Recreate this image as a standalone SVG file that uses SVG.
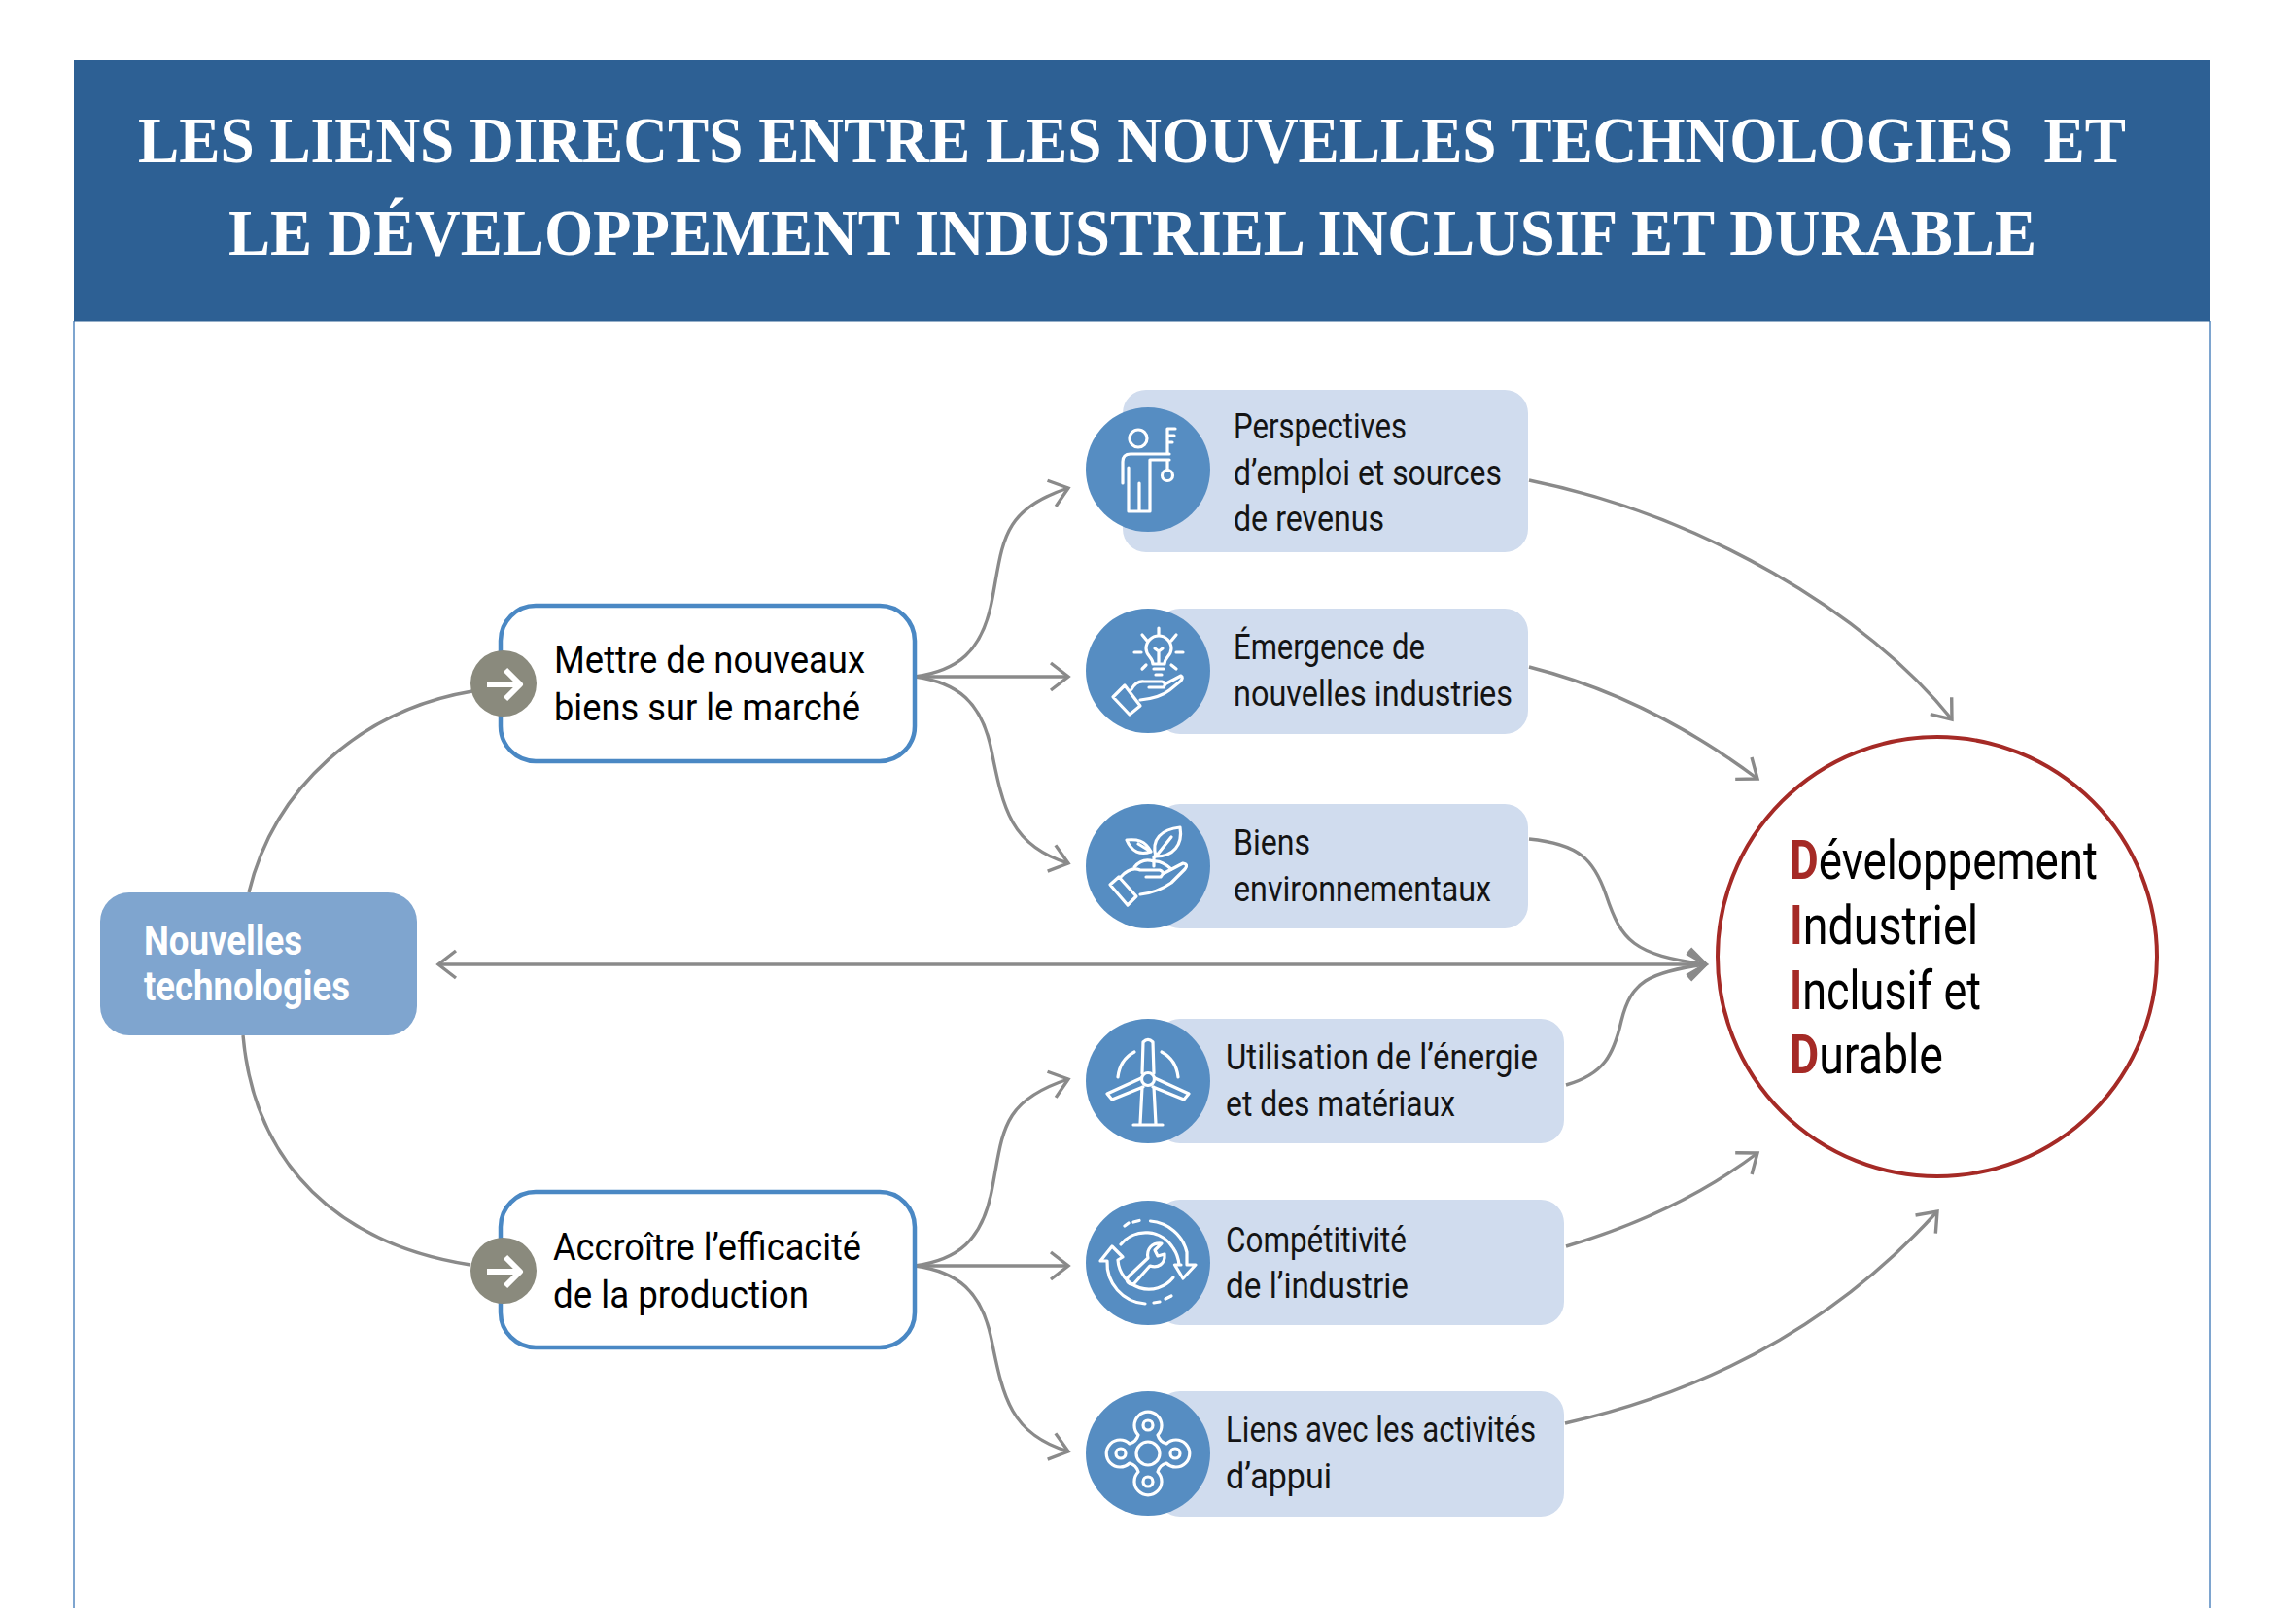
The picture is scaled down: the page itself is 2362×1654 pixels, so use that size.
<svg xmlns="http://www.w3.org/2000/svg" width="2362" height="1654" viewBox="0 0 2362 1654">
<style>
text{font-family:Roboto,"Noto Sans",sans-serif;fill:#141414}
.title{font-family:"Liberation Serif",serif;font-weight:700;font-size:68px;fill:#fff;white-space:pre}
.card{font-size:36px}
.mid{font-size:39px;fill:#000}
.big{font-size:56px;fill:#000}
.big tspan{fill:#a52a26;font-weight:700}
.nt{font-size:43px;font-weight:700;fill:#fff}
.c{fill:none;stroke:#8a8a8a;stroke-width:3.4}
.ci{fill:#568dc2}
.cb{fill:#d0dcee}
.i{fill:none;stroke:#fff;stroke-width:3.2;stroke-linecap:round;stroke-linejoin:round}
.go{fill:#8a8a7d}
.ga{fill:none;stroke:#fff;stroke-width:6;stroke-linejoin:round}
.mb{fill:#fff;stroke:#4a88c4;stroke-width:4.5}
</style>
<defs>
<marker id="h" markerUnits="userSpaceOnUse" markerWidth="40" markerHeight="40" refX="22" refY="20" orient="auto-start-reverse" viewBox="0 0 40 40" overflow="visible">
<path d="M4 6L22 20L4 34" fill="none" stroke="#8a8a8a" stroke-width="3.4"/>
</marker>
</defs>
<rect width="2362" height="1654" fill="#fff"/>
<g id="frame">
<path d="M76 330V1654M2274 330V1654" fill="none" stroke="#7ea5cf" stroke-width="2"/>
<rect x="76" y="62" width="2198" height="268.500" fill="#2d6094"/>
<text class="title" x="142" y="167" textLength="2045" lengthAdjust="spacingAndGlyphs">LES LIENS DIRECTS ENTRE LES NOUVELLES TECHNOLOGIES  ET</text>
<text class="title" x="235" y="262" textLength="1860" lengthAdjust="spacingAndGlyphs">LE DÉVELOPPEMENT INDUSTRIEL INCLUSIF ET DURABLE</text>
</g>
<g id="connectors">
<path class="c" d="M256 918C282 810 372 730 486 711"/>
<path class="c" d="M250 1065C262 1200 350 1280 484 1301"/>
<path class="c" d="M451 992H1755" marker-start="url(#h)" marker-end="url(#h)"/>
<path class="c" d="M941 696C985 690 1010 670 1020 620C1032 560 1028 525 1099 502" marker-end="url(#h)"/>
<path class="c" d="M941 696H1099" marker-end="url(#h)"/>
<path class="c" d="M941 696C985 702 1010 722 1020 772C1032 832 1040 870 1099 888" marker-end="url(#h)"/>
<path class="c" d="M941 1302C985 1296 1010 1276 1020 1226C1032 1166 1028 1133 1099 1110" marker-end="url(#h)"/>
<path class="c" d="M941 1302H1099" marker-end="url(#h)"/>
<path class="c" d="M941 1302C985 1308 1010 1328 1020 1378C1032 1438 1040 1475 1099 1493" marker-end="url(#h)"/>
<path class="c" d="M1573 494C1750 530 1920 630 2008 740" marker-end="url(#h)"/>
<path class="c" d="M1573 686C1660 708 1740 750 1808 801" marker-end="url(#h)"/>
<path class="c" d="M1573 863C1625 868 1640 885 1652 920C1668 968 1680 982 1755 992" marker-end="url(#h)"/>
<path class="c" d="M1611 1116C1650 1105 1660 1085 1668 1050C1678 1010 1695 1000 1755 992" marker-end="url(#h)"/>
<path class="c" d="M1611 1282C1685 1260 1750 1230 1808 1186" marker-end="url(#h)"/>
<path class="c" d="M1610 1464C1760 1430 1890 1360 1993 1246" marker-end="url(#h)"/>
</g>
<g id="nouvelles-technologies">
<rect x="103" y="918" width="326" height="147" rx="30" fill="#7fa5cf"/>
<text class="nt" x="148" y="982" textLength="163" lengthAdjust="spacingAndGlyphs">Nouvelles</text>
<text class="nt" x="148" y="1029" textLength="212" lengthAdjust="spacingAndGlyphs">technologies</text>
</g>
<g id="nouveaux-biens">
<rect class="mb" x="515" y="623" width="426" height="160" rx="36"/>
<circle class="go" cx="518" cy="703" r="34"/>
<path class="ga" d="M501 704H533M520 689L535 704L520 719"/>
<text class="mid" x="570" y="692" textLength="320" lengthAdjust="spacingAndGlyphs">Mettre de nouveaux</text>
<text class="mid" x="570" y="741" textLength="315" lengthAdjust="spacingAndGlyphs">biens sur le marché</text>
</g>
<g id="efficacite">
<rect class="mb" x="515" y="1226" width="426" height="160" rx="36"/>
<circle class="go" cx="518" cy="1307" r="34"/>
<path class="ga" d="M501 1308H533M520 1293L535 1308L520 1323"/>
<text class="mid" x="569" y="1296" textLength="317" lengthAdjust="spacingAndGlyphs">Accroître l’efficacité</text>
<text class="mid" x="569" y="1345" textLength="263" lengthAdjust="spacingAndGlyphs">de la production</text>
</g>
<g id="emploi">
<rect class="cb" x="1155" y="401" width="417" height="167" rx="24"/>
<circle class="ci" cx="1181" cy="483" r="64"/>
<g class="i" transform="translate(1181 483)">
<circle cx="-10" cy="-32" r="9"/>
<path d="M-26 14V-8Q-26 -16 -18 -16H22M-20 14V-2M-20 -2V43H2V-10H22M-9 43V14M20 -10V1M20 -16V-42M20 -42H28M20 -35H27M20 -28H25"/>
<circle cx="20" cy="6" r="5.500"/>
</g>
<text class="card" x="1269" y="451" textLength="178" lengthAdjust="spacingAndGlyphs">Perspectives</text>
<text class="card" x="1269" y="499" textLength="276" lengthAdjust="spacingAndGlyphs">d’emploi et sources</text>
<text class="card" x="1269" y="546" textLength="155" lengthAdjust="spacingAndGlyphs">de revenus</text>
</g>
<g id="industries">
<rect class="cb" x="1190" y="626" width="382" height="129" rx="24"/>
<circle class="ci" cx="1181" cy="690" r="64"/>
<g class="i" transform="translate(1181 690)">
<path d="M5 -7C5 -14 -2 -15 -2 -23A13 13 0 1 1 24 -23C24 -15 17 -14 17 -7ZM6 -2H16M8 4H14M11 -7V-20M7 -23L11 -20L15 -23"/>
<path d="M11 -44V-37M-6 -37L-1 -31M29 -37L24 -31M-14 -19H-7M29 -19H36M-6 -2L-2 -6M29 -2L24 -6"/>
<path d="M-36 27L-24 15L-8 36L-19 45ZM-17 19Q-12 10 -4 11H14Q20 12 16 17H1M17 14L34 5Q37 7 33 11L22 20Q12 28 -8 30"/>
</g>
<text class="card" x="1269" y="678" textLength="197" lengthAdjust="spacingAndGlyphs">Émergence de</text>
<text class="card" x="1269" y="726" textLength="287" lengthAdjust="spacingAndGlyphs">nouvelles industries</text>
</g>
<g id="biens-env">
<rect class="cb" x="1190" y="827" width="382" height="128" rx="24"/>
<circle class="ci" cx="1181" cy="891" r="64"/>
<g class="i" transform="translate(1181 891)">
<path d="M8 -10C3 -28 14 -38 33 -40C36 -22 26 -10 8 -10ZM8 -10L24 -30M3 -15C-3 -27 -12 -28 -22 -27C-17 -15 -8 -11 3 -15ZM3 -15L-10 -23M6 -10V0"/>
<path d="M-14 1Q-6 -9 6 -5Q14 -6 24 3"/>
<path d="M-39 19L-30 11L-12 31L-21 40ZM-28 11Q-18 0 -8 4H12Q18 6 13 11H-2M15 8L36 -3Q42 -2 38 3L24 17Q10 27 -8 29"/>
</g>
<text class="card" x="1269" y="879" textLength="79" lengthAdjust="spacingAndGlyphs">Biens</text>
<text class="card" x="1269" y="927" textLength="265" lengthAdjust="spacingAndGlyphs">environnementaux</text>
</g>
<g id="energie">
<rect class="cb" x="1190" y="1048" width="419" height="128" rx="24"/>
<circle class="ci" cx="1181" cy="1112" r="64"/>
<g class="i" transform="translate(1181 1112)">
<circle cx="0" cy="-2" r="6.500"/>
<path d="M-6 -8L-5 -40Q0 -45 5 -40L6 -8M-7 -3L-42 13L-37 19L-5 6M7 -3L42 13L37 19L5 6M-6 6L-8 44M6 6L8 44M-15 45H15"/>
<path d="M-31 -4Q-29 -22 -14 -30M31 -4Q29 -22 14 -30"/>
</g>
<text class="card" x="1261" y="1100" textLength="321" lengthAdjust="spacingAndGlyphs">Utilisation de l’énergie</text>
<text class="card" x="1261" y="1148" textLength="236" lengthAdjust="spacingAndGlyphs">et des matériaux</text>
</g>
<g id="competitivite">
<rect class="cb" x="1190" y="1234" width="419" height="129" rx="24"/>
<circle class="ci" cx="1181" cy="1299" r="64"/>
<g class="i" transform="translate(1181 1299)">
<path d="M-24 -38L-20 -41M-15 -42L-9 -43.500M2.500 -43A42 42 0 0 1 40 -11V2H49L36 16L27.500 2H34M-28 -19A33 33 0 0 1 26 -15Q31 -8 32 2"/>
<path d="M-42 -2A42 42 0 0 0 -3 42M-31 -3A32 32 0 0 0 26 15M-42 -2H-49L-37 -17L-26 -6L-31 -3M6 41L12 40M18 37L24 34"/>
<path d="M-20 14L0 -5C-2 -14 4 -21 14 -20L7 -13L10 -7L17 -9C18 1 10 6 2 3L-14 21C-19 24 -24 19 -20 14Z"/>
</g>
<text class="card" x="1261" y="1288" textLength="186" lengthAdjust="spacingAndGlyphs">Compétitivité</text>
<text class="card" x="1261" y="1335" textLength="188" lengthAdjust="spacingAndGlyphs">de l’industrie</text>
</g>
<g id="liens">
<rect class="cb" x="1190" y="1431" width="419" height="129" rx="24"/>
<circle class="ci" cx="1181" cy="1495" r="64"/>
<g class="i" transform="translate(1181 1495)">
<path d="M-10 -19A14 14 0 1 1 10 -19Q12 -12 19 -10A14 14 0 1 1 19 10Q12 12 10 19A14 14 0 1 1 -10 19Q-12 12 -19 10A14 14 0 1 1 -19 -10Q-12 -12 -10 -19Z"/>
<circle cx="0" cy="0" r="12"/>
<circle cx="0" cy="-29" r="5"/>
<circle cx="0" cy="29" r="5"/>
<circle cx="-28" cy="0" r="5"/>
<circle cx="28" cy="0" r="5"/>
</g>
<text class="card" x="1261" y="1483" textLength="319" lengthAdjust="spacingAndGlyphs">Liens avec les activités</text>
<text class="card" x="1261" y="1531" textLength="109" lengthAdjust="spacingAndGlyphs">d’appui</text>
</g>
<g id="diid">
<circle cx="1993" cy="984" r="226" fill="#fff" stroke="#a52a26" stroke-width="4"/>
<text class="big" x="1841" y="904" textLength="317" lengthAdjust="spacingAndGlyphs"><tspan>D</tspan>éveloppement</text>
<text class="big" x="1841" y="971" textLength="194" lengthAdjust="spacingAndGlyphs"><tspan>I</tspan>ndustriel</text>
<text class="big" x="1841" y="1038" textLength="197" lengthAdjust="spacingAndGlyphs"><tspan>I</tspan>nclusif et</text>
<text class="big" x="1841" y="1104" textLength="158" lengthAdjust="spacingAndGlyphs"><tspan>D</tspan>urable</text>
</g>
</svg>
